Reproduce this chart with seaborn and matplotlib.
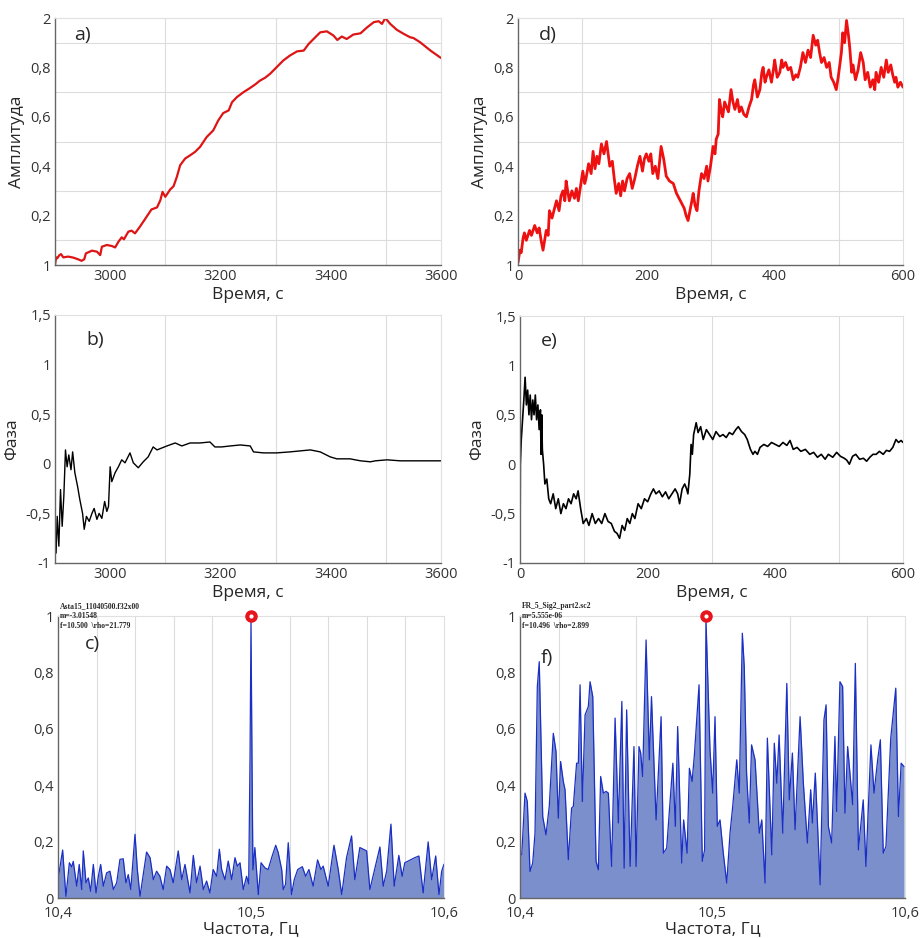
import numpy as np
import pandas as pd
import seaborn as sns
import matplotlib.pyplot as plt
from matplotlib.ticker import FixedLocator, FixedFormatter

# ---- a) amplitude, 2900..3600 s
t_a = [2900, 2902, 2904, 2908, 2911, 2915, 2924, 2933, 2942, 2948, 2953, 2956, 2967, 2976,
       2982, 2985, 2994, 3003, 3009, 3015, 3021, 3025, 3033, 3039, 3045, 3054, 3066, 3075,
       3085, 3091, 3095, 3100, 3109, 3115, 3121, 3127, 3136, 3145, 3154, 3163, 3175, 3187,
       3196, 3205, 3215, 3221, 3230, 3242, 3254, 3263, 3272, 3281, 3290, 3302, 3314, 3326,
       3339, 3351, 3360, 3372, 3381, 3393, 3405, 3412, 3420, 3429, 3441, 3454, 3466, 3478,
       3487, 3493, 3499, 3508, 3520, 3533, 3544, 3550, 3562, 3581, 3600]
amp_a = [0.000, 0.031, 0.027, 0.040, 0.044, 0.031, 0.034, 0.030, 0.023, 0.017, 0.023, 0.047,
         0.058, 0.054, 0.040, 0.074, 0.081, 0.077, 0.071, 0.094, 0.112, 0.104, 0.135, 0.139,
         0.128, 0.155, 0.195, 0.225, 0.233, 0.262, 0.296, 0.276, 0.306, 0.319, 0.357, 0.404,
         0.431, 0.444, 0.458, 0.478, 0.518, 0.545, 0.585, 0.615, 0.626, 0.659, 0.680, 0.700,
         0.717, 0.731, 0.747, 0.758, 0.774, 0.801, 0.828, 0.848, 0.865, 0.868, 0.895, 0.922,
         0.942, 0.946, 0.929, 0.911, 0.925, 0.915, 0.933, 0.938, 0.962, 0.983, 0.987, 0.976,
         1.000, 0.976, 0.952, 0.935, 0.922, 0.919, 0.902, 0.868, 0.838]

# ---- b) phase, 2900..3600 s
t_b = [2900, 2902, 2904, 2907, 2910, 2913, 2916, 2919, 2922, 2925, 2929, 2932, 2936, 2941,
       2945, 2950, 2953, 2957, 2962, 2967, 2971, 2976, 2980, 2985, 2990, 2994, 2997, 3000,
       3003, 3009, 3015, 3021, 3027, 3036, 3042, 3051, 3060, 3069, 3078, 3085, 3094, 3103,
       3118, 3130, 3145, 3163, 3181, 3190, 3202, 3218, 3236, 3254, 3260, 3278, 3302, 3326,
       3363, 3381, 3399, 3411, 3435, 3454, 3472, 3481, 3502, 3526, 3562, 3600]
ph_b = [-0.70, -0.90, -0.53, -0.83, -0.26, -0.63, -0.33, 0.14, -0.03, 0.09, -0.06, 0.12,
        -0.09, -0.23, -0.36, -0.50, -0.66, -0.53, -0.58, -0.50, -0.45, -0.56, -0.50, -0.55,
        -0.38, -0.48, -0.43, -0.03, -0.18, -0.09, -0.03, 0.04, 0.01, 0.11, 0.01, -0.04,
        0.02, 0.07, 0.17, 0.14, 0.16, 0.18, 0.21, 0.18, 0.21, 0.21, 0.22, 0.17, 0.17, 0.18,
        0.19, 0.18, 0.12, 0.11, 0.11, 0.12, 0.14, 0.12, 0.07, 0.05, 0.05, 0.03, 0.02, 0.03,
        0.04, 0.03, 0.03, 0.03]

# ---- d) amplitude, 0..600 s (rows of ten)
t_d = [0, 3, 5, 8, 10, 13, 18, 21, 26, 30,
       33, 36, 39, 44, 47, 49, 53, 57, 60, 64,
       67, 70, 73, 75, 78, 80, 84, 88, 91, 94,
       98, 101, 104, 106, 110, 114, 117, 120, 123, 126,
       130, 134, 138, 141, 143, 147, 150, 153, 157, 160,
       163, 166, 170, 174, 178, 182, 186, 190, 194, 197,
       200, 204, 207, 210, 214, 218, 223, 227, 231, 236,
       242, 247, 251, 255, 259, 262, 265, 268, 271, 273,
       276, 279, 282, 286, 290, 294, 296, 300, 304, 307,
       309, 312, 314, 317, 319, 322, 325, 328, 332, 335,
       338, 342, 345, 348, 352, 356, 360, 364, 367, 369,
       373, 377, 380, 382, 385, 387, 391, 395, 398, 400,
       404, 408, 411, 413, 417, 421, 425, 429, 433, 436,
       440, 444, 448, 452, 456, 460, 464, 467, 470, 473,
       477, 481, 485, 488, 492, 496, 499, 501, 504, 506,
       509, 512, 515, 517, 520, 522, 526, 530, 534, 538,
       541, 545, 549, 553, 556, 558, 562, 566, 570, 574,
       577, 581, 584, 587, 589, 592, 596, 600]
amp_d = [0.01, 0.06, 0.05, 0.11, 0.13, 0.10, 0.14, 0.12, 0.16, 0.13,
         0.15, 0.10, 0.06, 0.14, 0.12, 0.22, 0.19, 0.23, 0.26, 0.22,
         0.28, 0.30, 0.26, 0.34, 0.29, 0.26, 0.30, 0.27, 0.31, 0.26,
         0.33, 0.38, 0.33, 0.35, 0.41, 0.37, 0.46, 0.39, 0.44, 0.41,
         0.49, 0.45, 0.50, 0.44, 0.40, 0.42, 0.35, 0.29, 0.33, 0.28,
         0.34, 0.30, 0.35, 0.37, 0.31, 0.35, 0.40, 0.44, 0.38, 0.43,
         0.45, 0.42, 0.45, 0.37, 0.40, 0.35, 0.48, 0.43, 0.36, 0.34,
         0.33, 0.29, 0.27, 0.25, 0.23, 0.20, 0.18, 0.22, 0.26, 0.29,
         0.24, 0.22, 0.30, 0.37, 0.35, 0.40, 0.34, 0.40, 0.48, 0.45,
         0.51, 0.53, 0.67, 0.62, 0.60, 0.66, 0.64, 0.62, 0.71, 0.66,
         0.63, 0.67, 0.62, 0.64, 0.61, 0.60, 0.64, 0.67, 0.73, 0.75,
         0.68, 0.71, 0.78, 0.80, 0.74, 0.76, 0.79, 0.74, 0.79, 0.83,
         0.76, 0.78, 0.83, 0.80, 0.82, 0.79, 0.80, 0.75, 0.77, 0.76,
         0.80, 0.86, 0.82, 0.87, 0.84, 0.93, 0.89, 0.91, 0.86, 0.82,
         0.84, 0.80, 0.82, 0.76, 0.74, 0.71, 0.76, 0.80, 0.86, 0.94,
         0.90, 0.99, 0.93, 0.88, 0.78, 0.81, 0.75, 0.79, 0.86, 0.82,
         0.75, 0.78, 0.72, 0.75, 0.71, 0.78, 0.74, 0.80, 0.76, 0.83,
         0.78, 0.81, 0.77, 0.74, 0.76, 0.72, 0.74, 0.72]

# ---- e) phase, 0..600 s
t_e = [0, 0.5, 2, 4, 6, 8, 10, 12, 14, 16, 18, 20, 22, 24, 26, 28, 30, 32, 33, 34, 35, 37,
       39, 42, 45, 48, 52, 56, 60, 64, 68, 72, 76, 80, 84, 88, 91, 95, 99, 104, 108, 113, 118,
       123, 128, 133, 138, 143, 148, 152, 156, 160, 164, 168, 172, 176, 180, 185, 190, 195,
       200, 205, 209, 213, 218, 223, 228, 233, 238, 243, 247, 250, 254, 258, 261, 263, 266,
       268, 270, 272, 276, 279, 283, 287, 292, 297, 302, 307, 313, 318, 323, 328, 333, 338,
       342, 347, 352, 356, 361, 365, 368, 372, 376, 382, 388, 394, 400, 406, 412, 418, 423,
       428, 434, 440, 447, 454, 460, 466, 472, 478, 483, 490, 496, 502, 508, 512, 516, 521,
       526, 532, 538, 543, 548, 553, 558, 563, 569, 574, 579, 584, 589, 593, 597, 600]
ph_e = [-1.0, 0.0, 0.25, 0.45, 0.65, 0.88, 0.6, 0.75, 0.5, 0.7, 0.45, 0.65, 0.5, 0.7, 0.45,
        0.6, 0.35, 0.55, 0.1, 0.5, 0.15, 0.0, -0.2, -0.15, -0.35, -0.4, -0.3, -0.45, -0.35,
        -0.5, -0.4, -0.45, -0.35, -0.4, -0.3, -0.35, -0.27, -0.45, -0.6, -0.55, -0.62, -0.5,
        -0.6, -0.55, -0.6, -0.5, -0.58, -0.6, -0.68, -0.7, -0.75, -0.62, -0.67, -0.55, -0.6,
        -0.5, -0.55, -0.4, -0.45, -0.35, -0.38, -0.3, -0.25, -0.3, -0.27, -0.33, -0.28,
        -0.35, -0.3, -0.25, -0.3, -0.4, -0.25, -0.2, -0.25, -0.3, -0.1, 0.2, 0.1, 0.3, 0.42,
        0.32, 0.38, 0.25, 0.35, 0.3, 0.25, 0.33, 0.28, 0.3, 0.27, 0.32, 0.3, 0.35, 0.38, 0.33,
        0.3, 0.25, 0.15, 0.1, 0.13, 0.1, 0.17, 0.2, 0.18, 0.22, 0.2, 0.18, 0.22, 0.19, 0.24,
        0.15, 0.17, 0.13, 0.15, 0.1, 0.12, 0.07, 0.1, 0.05, 0.1, 0.07, 0.12, 0.08, 0.06, 0.04,
        0.0, 0.08, 0.1, 0.05, 0.06, 0.03, 0.07, 0.1, 0.1, 0.13, 0.1, 0.14, 0.13, 0.17, 0.25,
        0.22, 0.24, 0.22]

# ---- c) spectrum, offsets from 10.4 Hz in mHz
df_c = [0, 2.4, 4.1, 5.9, 7.1, 7.9, 9.7, 11.0, 12.3, 13.1, 14.5, 15.7, 16.9, 18.3, 19.7,
        20.9, 22.1, 23.5, 25.2, 26.9, 28.7, 30.4, 32.1, 33.8, 35.2, 36.4, 37.7, 39.9, 41.1,
        42.5, 45.9, 47.7, 49.4, 51.1, 52.8, 54.5, 56.3, 58.0, 59.7, 62.3, 64.1, 65.8, 68.4,
        70.1, 71.8, 73.6, 75.3, 77.0, 78.7, 80.4, 82.2, 83.6, 84.8, 86.5, 88.2, 90.0, 91.7,
        92.9, 94.3, 96.0, 97.7, 98.8, 99.5, 100.0, 100.5, 101.0, 102.0, 103.8, 105.2, 107.2,
        108.9, 110.7, 112.8, 114.1, 115.9, 116.7, 117.9, 119.3, 121.0, 122.4, 124.2, 126.6,
        128.3, 130.0, 132.2, 134.5, 136.2, 137.4, 140.0, 143.0, 145.2, 147.0, 149.5, 152.1,
        153.8, 156.4, 159.9, 161.6, 166.8, 168.5, 170.3, 172.5, 174.2, 176.6, 178.3, 179.7,
        184.9, 187.0, 189.2, 191.8, 193.6, 195.7, 197.4, 198.8, 200.0]
sp_c = [0.065, 0.17, 0.006, 0.125, 0.11, 0.13, 0.042, 0.119, 0.03, 0.167, 0.054, 0.071,
        0.024, 0.119, 0.018, 0.077, 0.119, 0.042, 0.089, 0.095, 0.03, 0.054, 0.137, 0.139,
        0.054, 0.083, 0.03, 0.226, 0.101, 0.006, 0.163, 0.143, 0.065, 0.095, 0.077, 0.03,
        0.113, 0.101, 0.054, 0.167, 0.065, 0.119, 0.018, 0.151, 0.054, 0.113, 0.03, 0.06,
        0.018, 0.101, 0.077, 0.173, 0.101, 0.065, 0.131, 0.065, 0.143, 0.113, 0.125, 0.03,
        0.077, 0.05, 0.5, 0.98, 0.5, 0.1, 0.179, 0.012, 0.125, 0.107, 0.101, 0.143, 0.187,
        0.161, 0.101, 0.03, 0.048, 0.196, 0.012, 0.065, 0.101, 0.111, 0.077, 0.101, 0.042,
        0.135, 0.101, 0.113, 0.042, 0.187, 0.101, 0.012, 0.143, 0.22, 0.065, 0.179, 0.167,
        0.03, 0.181, 0.042, 0.095, 0.262, 0.042, 0.151, 0.077, 0.125, 0.143, 0.149, 0.018,
        0.199, 0.065, 0.149, 0.012, 0.095, 0.12]

# ---- f) spectrum, offsets from 10.4 Hz in mHz
df_f = [0, 0.9, 2.6, 3.8, 5.2, 6.6, 7.8, 9.0, 10.0, 11.8, 13.5, 15.2, 17.3, 18.7, 19.9,
        21.1, 22.5, 23.4, 25.1, 26.8, 27.7, 29.4, 30.3, 31.2, 32.4, 33.8, 35.5, 36.4, 37.8,
        39.5, 40.7, 41.9, 43.3, 44.7, 45.9, 47.6, 49.4, 51.1, 52.9, 54.1, 55.4, 57.2, 59.2,
        60.3, 61.8, 62.7, 63.7, 65.5, 67.2, 68.3, 70.7, 73.3, 74.5, 76.2, 79.4, 80.7, 81.9,
        84.0, 85.0, 86.8, 88.0, 89.4, 90.6, 93.0, 94.7, 95.9, 96.6, 98.7, 100.1, 101.3,
        102.5, 103.9, 105.6, 107.4, 109.1, 110.5, 112.6, 113.9, 115.5, 116.5, 117.7, 119.1,
        120.3, 122.1, 124.3, 125.6, 127.3, 128.5, 130.8, 132.1, 133.4, 134.6, 136.5, 138.6,
        139.9, 141.5, 142.9, 145.5, 147.2, 149.3, 151.0, 151.9, 153.4, 155.9, 157.9, 159.0,
        160.2, 161.9, 163.6, 164.5, 166.2, 167.6, 168.8, 170.2, 172.8, 174.2, 175.8, 178.3,
        179.7, 182.3, 183.9, 185.8, 187.2, 188.7, 190.1, 192.6, 195.2, 196.6, 198.0, 199.5]
sp_f = [0.153, 0.153, 0.372, 0.342, 0.094, 0.124, 0.23, 0.75, 0.838, 0.289, 0.224, 0.325,
        0.584, 0.52, 0.283, 0.484, 0.413, 0.384, 0.136, 0.319, 0.325, 0.478, 0.478, 0.756,
        0.342, 0.649, 0.679, 0.767, 0.714, 0.13, 0.1, 0.431, 0.372, 0.378, 0.372, 0.112,
        0.638, 0.266, 0.697, 0.106, 0.667, 0.112, 0.537, 0.112, 0.537, 0.514, 0.431, 0.915,
        0.49, 0.714, 0.277, 0.643, 0.159, 0.177, 0.478, 0.254, 0.608, 0.124, 0.277, 0.159,
        0.46, 0.413, 0.508, 0.756, 0.13, 0.171, 0.99, 0.525, 0.372, 0.643, 0.254, 0.277,
        0.159, 0.053, 0.23, 0.325, 0.49, 0.372, 0.939, 0.82, 0.443, 0.266, 0.543, 0.49, 0.23,
        0.277, 0.053, 0.567, 0.153, 0.549, 0.407, 0.578, 0.23, 0.761, 0.348, 0.514, 0.242,
        0.643, 0.407, 0.195, 0.384, 0.266, 0.443, 0.047, 0.632, 0.685, 0.254, 0.195, 0.573,
        0.307, 0.767, 0.75, 0.301, 0.537, 0.331, 0.832, 0.171, 0.348, 0.112, 0.543, 0.372,
        0.49, 0.561, 0.159, 0.183, 0.567, 0.744, 0.289, 0.478, 0.466]

peak_c = (10.500, 1.0)
peak_f = (10.4966, 1.0)
note_c = "Asta15_11040500.f32x00\nm=-3.01548\nf=10.500  \\rho=21.779"
note_f = "FR_5_Sig2_part2.sc2\nm=5.555e-06\nf=10.496  \\rho=2.899"

sns.set_theme(style="white")
plt.rcParams['font.family'] = ['Open Sans', 'DejaVu Sans']

W, H = 924, 938
fig = plt.figure(figsize=(W / 100, H / 100), dpi=100)


def make_ax(l, r, t, b):
    return fig.add_axes([l / W, 1 - b / H, (r - l) / W, (b - t) / H])


def style(ax, xmaj, xlab, xgrid, ymaj, ylab, ygrid, xpad=3):
    ax.xaxis.set_major_locator(FixedLocator(xmaj))
    ax.xaxis.set_major_formatter(FixedFormatter(xlab))
    ax.xaxis.set_minor_locator(FixedLocator(xgrid))
    ax.yaxis.set_major_locator(FixedLocator(ymaj))
    ax.yaxis.set_major_formatter(FixedFormatter(ylab))
    ax.yaxis.set_minor_locator(FixedLocator(ygrid))
    ax.grid(False, which='major')
    ax.grid(True, which='minor', color='#dcdcdc', linewidth=0.8)
    ax.tick_params(which='both', direction='in', length=0, labelsize=10.5,
                   colors='#333333', pad=3)
    ax.tick_params(axis='x', which='major', pad=xpad)
    ax.tick_params(axis='x', which='minor', length=3, color='#777777')
    for s in ['left', 'bottom']:
        ax.spines[s].set_color('#666666')
        ax.spines[s].set_linewidth(1.0)
    for s in ['top', 'right']:
        ax.spines[s].set_color('#e0e0e0')
        ax.spines[s].set_linewidth(0.8)
    ax.set_axisbelow(True)


amp_ticks = [0, 0.2, 0.4, 0.6, 0.8, 1.0]
amp_labels = ['1', '0,2', '0,4', '0,6', '0,8', '2']
amp_grid = [0.1 * i for i in range(11)]
ph_ticks = [-1, -0.5, 0, 0.5, 1, 1.5]
ph_labels = ['-1', '-0,5', '0', '0,5', '1', '1,5']
sp_ticks = [0, 0.2, 0.4, 0.6, 0.8, 1.0]
sp_labels = ['0', '0,2', '0,4', '0,6', '0,8', '1']

# a)
ax = make_ax(55, 441, 18, 265)
sns.lineplot(x=t_a, y=amp_a, ax=ax, color='#dd1515', linewidth=1.6, estimator=None, sort=False)
ax.set_xlim(2900, 3600); ax.set_ylim(0, 1)
style(ax, [3000, 3200, 3400, 3600], ['3000', '3200', '3400', '3600'],
      list(range(3000, 3601, 100)), amp_ticks, amp_labels, amp_grid)
ax.set_xlabel('Время, с', fontsize=12.5, labelpad=2)
ax.set_ylabel('Амплитуда', fontsize=12.5, labelpad=4)
ax.text(0.05, 0.93, 'a)', transform=ax.transAxes, fontsize=14, va='center')

# d)
ax = make_ax(518, 903, 18, 265)
sns.lineplot(x=t_d, y=amp_d, ax=ax, color='#ee1111', linewidth=2.0, estimator=None, sort=False)
ax.set_xlim(0, 600); ax.set_ylim(0, 1)
style(ax, [0, 200, 400, 600], ['0', '200', '400', '600'],
      list(range(100, 601, 100)), amp_ticks, amp_labels, amp_grid)
ax.set_xlabel('Время, с', fontsize=12.5, labelpad=2)
ax.set_ylabel('Амплитуда', fontsize=12.5, labelpad=4)
ax.text(0.055, 0.93, 'd)', transform=ax.transAxes, fontsize=14, va='center')

# b)
ax = make_ax(55, 441, 315, 563)
sns.lineplot(x=t_b, y=ph_b, ax=ax, color='black', linewidth=1.0, estimator=None, sort=False)
ax.set_xlim(2900, 3600); ax.set_ylim(-1, 1.5)
style(ax, [3000, 3200, 3400, 3600], ['3000', '3200', '3400', '3600'],
      list(range(3000, 3601, 100)), ph_ticks, ph_labels, ph_ticks)
ax.set_xlabel('Время, с', fontsize=12.5, labelpad=2)
ax.set_ylabel('Фаза', fontsize=12.5, labelpad=4)
ax.text(0.08, 0.9, 'b)', transform=ax.transAxes, fontsize=14, va='center')

# e)
ax = make_ax(520, 903, 316, 563)
sns.lineplot(x=t_e, y=ph_e, ax=ax, color='black', linewidth=1.2, estimator=None, sort=False)
ax.set_xlim(0, 600); ax.set_ylim(-1, 1.5)
style(ax, [0, 200, 400, 600], ['0', '200', '400', '600'],
      list(range(100, 601, 100)), ph_ticks, ph_labels, ph_ticks)
ax.set_xlabel('Время, с', fontsize=12.5, labelpad=2)
ax.set_ylabel('Фаза', fontsize=12.5, labelpad=4)
ax.text(0.055, 0.9, 'e)', transform=ax.transAxes, fontsize=14, va='center')

# c) and f) spectra
for (l, r), dfs, sp, pk, note, lab, lab_y, xg in [
        ((58, 444), df_c, sp_c, peak_c, note_c, 'c)', 0.9, [10.4 + 0.02 * i for i in range(1, 10)]),
        ((520, 905), df_f, sp_f, peak_f, note_f, 'f)', 0.85, [10.42, 10.46, 10.50, 10.54, 10.58])]:
    ax = make_ax(l, r, 616, 898)
    freq = [10.4 + d / 1000 for d in dfs]
    ax.fill_between(freq, sp, 0, color='#7a8fcb', linewidth=0)
    sns.lineplot(x=freq, y=sp, ax=ax, color='#1b2fc4', linewidth=0.9, estimator=None, sort=False)
    ax.plot([pk[0]], [pk[1]], 'o', color='#e8141c', markersize=8, clip_on=False, zorder=5)
    ax.plot([pk[0]], [pk[1]], 'o', color='white', markersize=2, clip_on=False, zorder=6)
    ax.set_xlim(10.4, 10.6); ax.set_ylim(0, 1)
    style(ax, [10.4, 10.5, 10.6], ['10,4', '10,5', '10,6'], xg,
          sp_ticks, sp_labels, sp_ticks, xpad=6)
    ax.set_xlabel('Частота, Гц', fontsize=12.5, labelpad=0)
    ax.text(0.005, 1.05, note, transform=ax.transAxes, fontsize=5.5, va='top', ha='left',
            family=['Liberation Serif', 'DejaVu Serif'], fontweight='bold', linespacing=1.3)
    ax.text(0.07 if lab == 'c)' else 0.055, lab_y, lab, transform=ax.transAxes,
            fontsize=14, va='center')

fig.savefig('out.png', dpi=100)
